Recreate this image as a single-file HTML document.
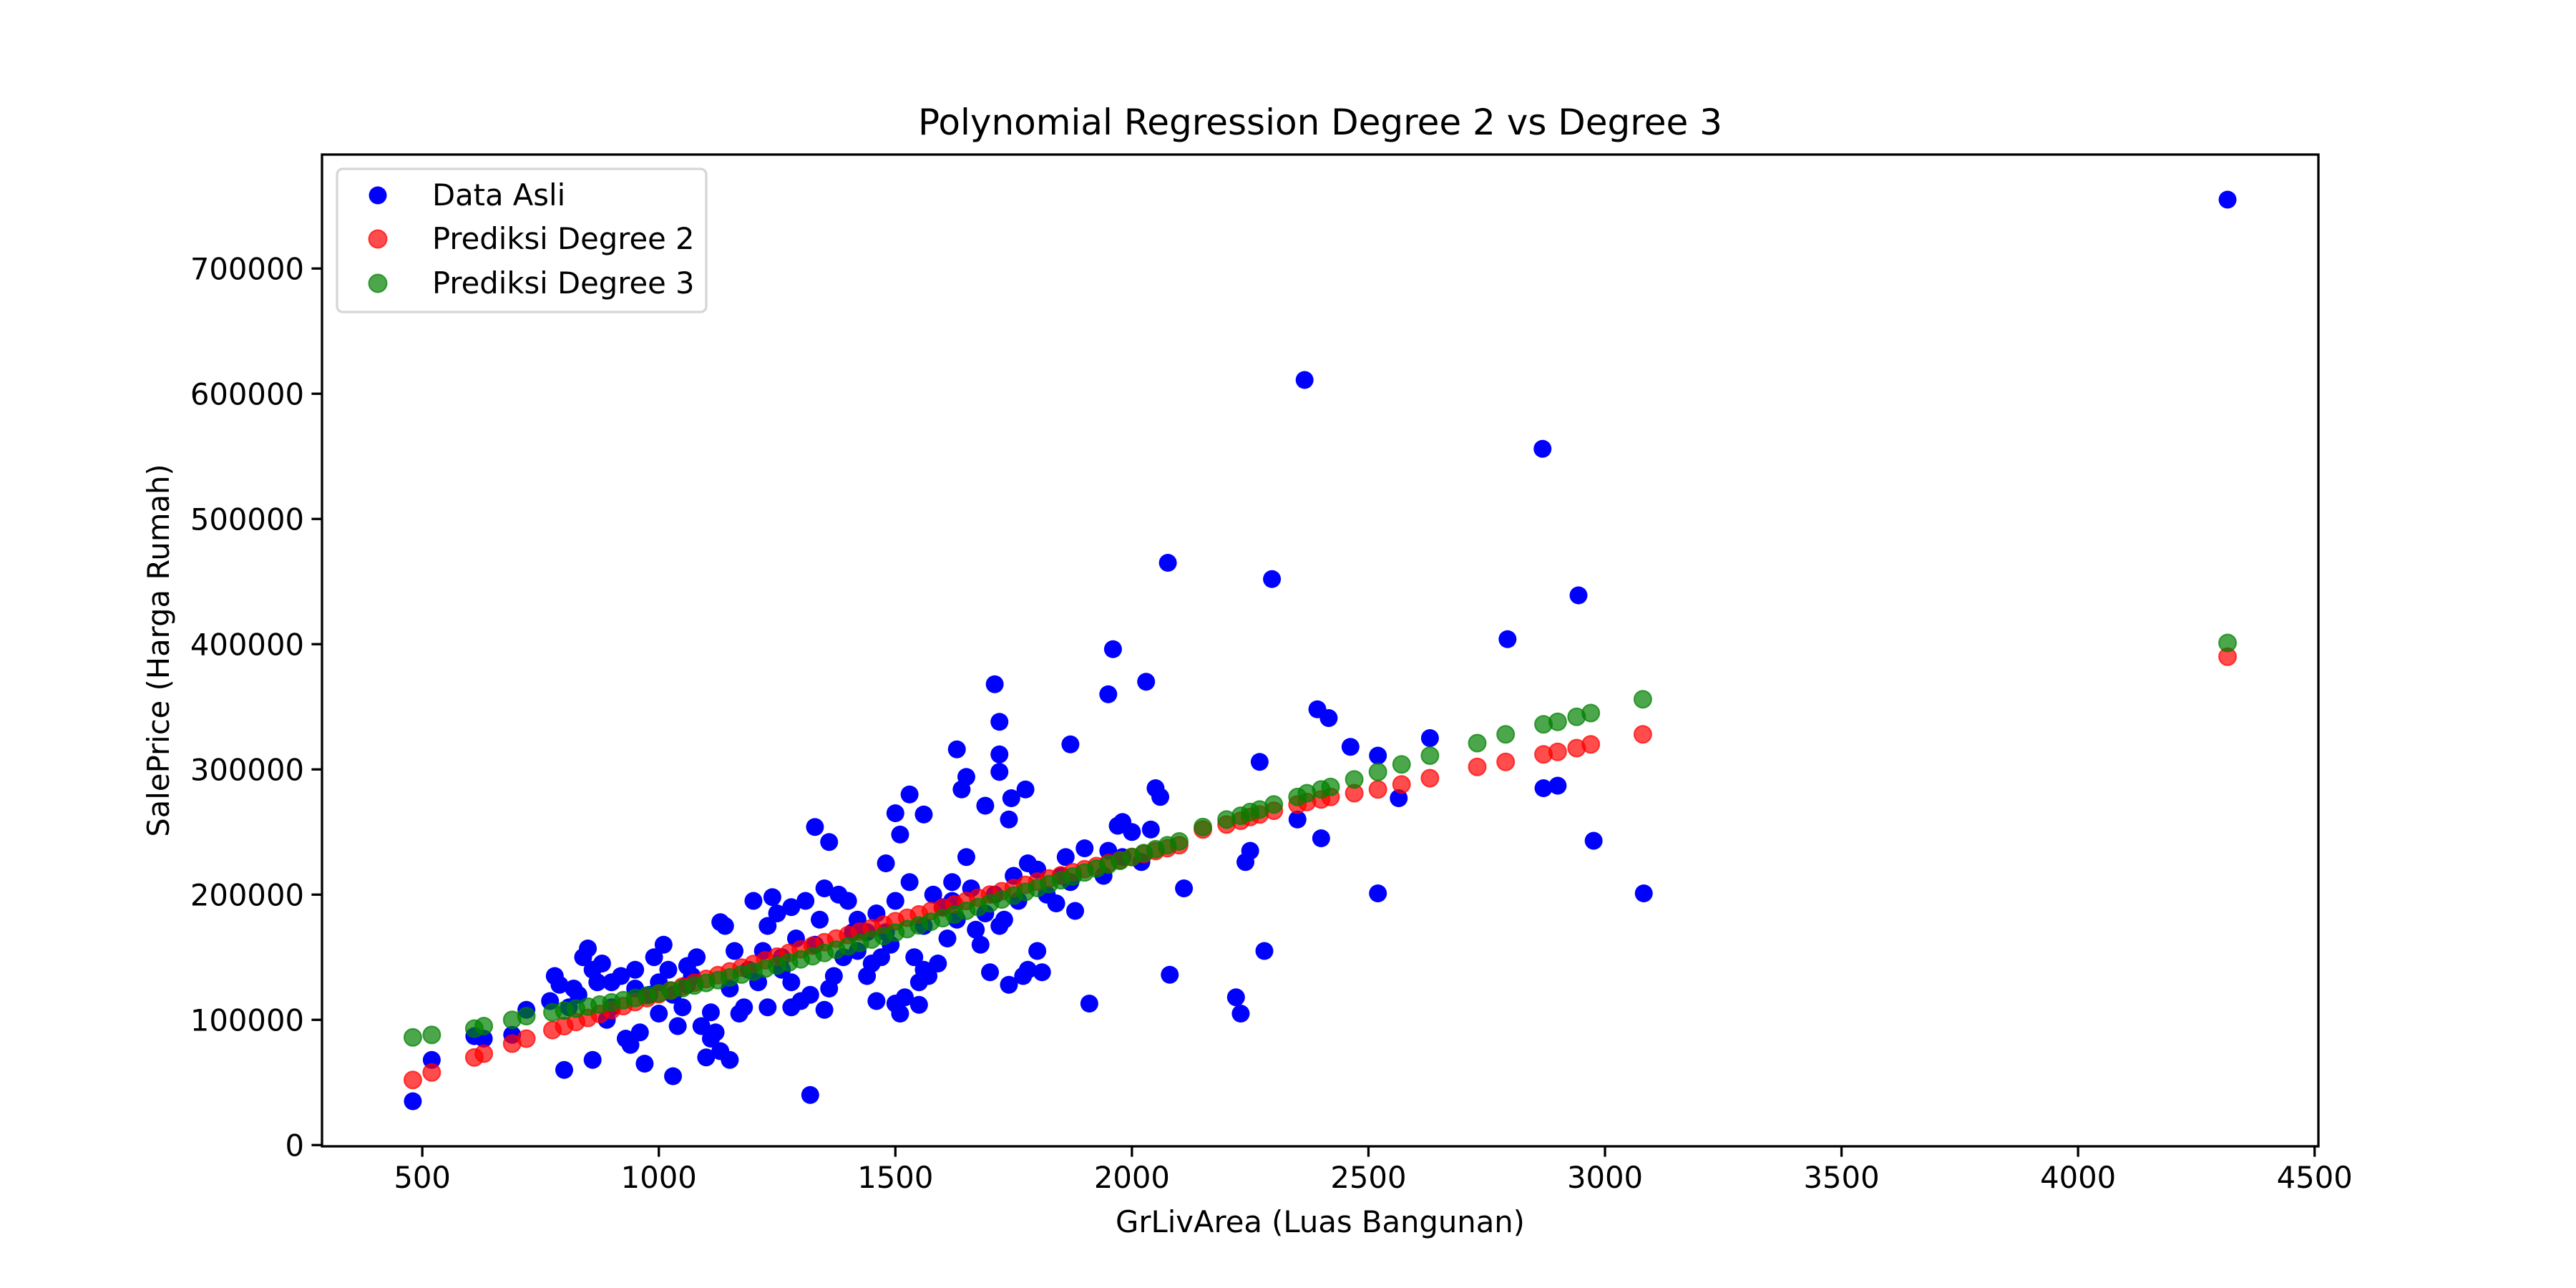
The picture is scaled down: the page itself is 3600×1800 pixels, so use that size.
<!DOCTYPE html>
<html><head><meta charset="utf-8"><style>
html,body{margin:0;padding:0;background:#fff;}
svg{display:block;font-family:"DejaVu Sans","Liberation Sans",sans-serif;}
</style></head><body>
<svg id="chart" width="3600" height="1800" viewBox="0 0 3600 1800">
<rect width="3600" height="1800" fill="#fff"/>
<text x="1845" y="188" font-size="50" text-anchor="middle">Polynomial Regression Degree 2 vs Degree 3</text>
<g id="ticks"></g>
<g id="marks"></g>
<rect x="450" y="216" width="2790" height="1386" fill="none" stroke="#000" stroke-width="3.3"/>
<text x="1845" y="1722" font-size="41.7" text-anchor="middle">GrLivArea (Luas Bangunan)</text>
<text transform="translate(236,909) rotate(-90)" font-size="41.7" text-anchor="middle">SalePrice (Harga Rumah)</text>
<g>
<rect x="471" y="236" width="516" height="200" rx="8" fill="#fff" fill-opacity="0.8" stroke="#d6d6d6" stroke-width="3.3"/>
<circle cx="528" cy="273" r="12.5" fill="#0000ff"/>
<text x="604" y="287" font-size="41.7">Data Asli</text>
<circle cx="528" cy="334" r="12.5" fill="#ff0000" fill-opacity="0.7" stroke="#ff0000" stroke-opacity="0.7" stroke-width="2"/>
<text x="604" y="348" font-size="41.7">Prediksi Degree 2</text>
<circle cx="528" cy="396" r="12.5" fill="#008000" fill-opacity="0.7" stroke="#008000" stroke-opacity="0.7" stroke-width="2"/>
<text x="604" y="410" font-size="41.7">Prediksi Degree 3</text>
</g>
</svg>
<script>
const xTicks=[500,1000,1500,2000,2500,3000,3500,4000,4500];
const yTicks=[0,100000,200000,300000,400000,500000,600000,700000];
const dataPoints=[[4316,755000],[2365,611000],[2868,556000],[2076,465000],[2296,452000],[2944,439000],[2794,404000],[1960,396000],[1710,368000],[2030,370000],[1950,360000],[2392,348000],[2416,341000],[1720,338000],[2630,325000],[2870,285000],[2900,287000],[2976,243000],[3082,201000],[2520,201000],[2462,318000],[2520,311000],[2564,277000],[2400,245000],[2270,306000],[2110,205000],[2080,136000],[2220,118000],[2230,105000],[2280,155000],[2240,226000],[2250,235000],[2350,260000],[1320,40000],[480,35000],[520,68000],[1630,316000],[1650,294000],[1720,312000],[1745,277000],[1775,284000],[1870,320000],[1980,258000],[1330,254000],[1500,265000],[1510,248000],[1530,280000],[1560,264000],[1640,284000],[1690,271000],[1720,298000],[1740,260000],[1910,113000],[1840,193000],[1880,187000],[1800,155000],[1810,138000],[1780,140000],[1740,128000],[1860,230000],[1780,225000],[1800,220000],[1900,237000],[2050,285000],[2060,278000],[1970,255000],[2000,250000],[2020,226000],[1980,230000],[1940,215000],[1700,138000],[1680,160000],[1600,190000],[1580,200000],[1620,210000],[1560,140000],[1540,150000],[1520,118000],[1500,113000],[1510,105000],[1470,150000],[1450,145000],[1440,170000],[1420,180000],[1400,195000],[1380,200000],[1360,242000],[1350,205000],[1340,180000],[1320,120000],[1300,115000],[1310,195000],[1290,165000],[1260,150000],[1250,185000],[1240,198000],[1230,175000],[1220,155000],[1210,130000],[1200,195000],[1190,140000],[1180,110000],[1170,105000],[1160,155000],[1150,125000],[1140,175000],[1130,178000],[1120,90000],[1110,85000],[1100,70000],[1090,95000],[1080,150000],[1070,135000],[1060,143000],[1050,110000],[1040,95000],[1030,55000],[1020,140000],[1010,160000],[1000,130000],[990,150000],[980,120000],[970,65000],[960,90000],[950,140000],[940,80000],[930,85000],[920,135000],[900,110000],[890,100000],[880,145000],[870,130000],[860,68000],[850,157000],[840,150000],[830,120000],[820,125000],[810,110000],[800,60000],[790,128000],[780,135000],[770,115000],[720,108000],[690,88000],[630,85000],[610,87000],[1150,68000],[1130,75000],[1110,106000],[1350,108000],[1370,135000],[1390,150000],[1410,170000],[1460,185000],[1480,225000],[1490,160000],[1550,130000],[1570,135000],[1590,145000],[1610,165000],[1630,180000],[1650,230000],[1660,205000],[1670,172000],[1690,185000],[1710,200000],[1730,180000],[1750,215000],[1760,195000],[1820,200000],[1850,215000],[1870,210000],[1950,235000],[2040,252000],[1230,110000],[1260,140000],[1280,130000],[1330,160000],[1360,125000],[1420,155000],[1440,135000],[1480,170000],[1500,195000],[1530,210000],[1560,175000],[1620,195000],[1000,105000],[1030,120000],[1060,128000],[950,125000],[900,130000],[860,140000],[1280,110000],[1280,190000],[1720,175000],[1770,135000],[1550,112000],[1460,115000]];
const predX=[480,520,610,630,690,720,775,800,825,850,875,900,925,950,975,1000,1025,1050,1075,1100,1125,1150,1175,1200,1225,1250,1275,1300,1325,1350,1375,1400,1425,1450,1475,1500,1525,1550,1575,1600,1625,1650,1675,1700,1725,1750,1775,1800,1825,1850,1875,1900,1925,1950,1975,2000,2025,2050,2075,2100,2150,2200,2230,2250,2270,2300,2350,2370,2400,2420,2470,2520,2570,2630,2730,2790,2870,2900,2940,2970,3080,4316];
const predDeg2=[52000,58000,70000,73000,81000,85000,91800,95000,98300,101500,104700,107900,111000,114200,117300,120400,123500,126600,129600,132700,135700,138700,141700,144600,147600,150500,153400,156300,159200,162000,164900,167700,170500,173300,176000,178800,181500,184200,186900,189600,192200,194900,197500,200100,202700,205300,207800,210400,212900,215400,217900,220300,222800,225200,227600,230000,232400,234800,237100,239500,252000,256000,259000,262000,264000,267000,272000,274000,276000,278000,281000,284000,288000,293000,302000,306000,312000,314000,317000,320000,328000,390000];
const predDeg3=[86000,88000,93000,95000,100000,103000,106000,107500,109000,110600,112200,113900,115700,117500,119400,121300,123300,125300,127400,129500,131700,133900,136200,138500,140900,143300,145800,148300,150800,153400,156000,158700,161400,164100,166900,169700,172500,175400,178300,181200,184100,187100,190100,193100,196100,199200,202200,205300,208400,211500,214600,217700,220800,223900,227000,230100,233200,236300,239400,242500,254000,260000,263000,266000,268000,272000,278000,281000,284000,286000,292000,298000,304000,311000,321000,328000,336000,338000,342000,345000,356000,401000];

const X0=450,X1=3240,Y0=1602,Y1=216,xMin=288,xMax=4508,yMin=-1000,yMax=791000;
const sx=v=>X0+(v-xMin)/(xMax-xMin)*(X1-X0);
const sy=v=>Y0-(v-yMin)/(yMax-yMin)*(Y0-Y1);
const NS='http://www.w3.org/2000/svg';
const tg=document.getElementById('ticks'),mg=document.getElementById('marks');
function mk(tag,attrs,parent){const e=document.createElementNS(NS,tag);for(const k in attrs)e.setAttribute(k,attrs[k]);parent.appendChild(e);return e;}
xTicks.forEach(t=>{const x=sx(t);
 const l=mk('line',{x1:x,x2:x,y1:Y0,y2:Y0+14.6,stroke:'#000','stroke-width':3.3},tg);
 
 
 const tx=mk('text',{x:x,y:Y0+58,'font-size':41.7,'text-anchor':'middle'},tg);tx.textContent=t;
 
 });
yTicks.forEach(t=>{const y=sy(t);
 const l=mk('line',{x1:X0-14.6,x2:X0,y1:y,y2:y,stroke:'#000','stroke-width':3.3},tg);
 
 
 const tx=mk('text',{x:X0-25,y:y+15,'font-size':41.7,'text-anchor':'end'},tg);tx.textContent=t;
 
 });
dataPoints.forEach(p=>{const c=mk('circle',{cx:sx(p[0]),cy:sy(p[1]),r:12.5,fill:'#0000ff'},mg);
 
 });
predX.forEach((x,i)=>{const c=mk('circle',{cx:sx(x),cy:sy(predDeg2[i]),r:12,fill:'#ff0000','fill-opacity':0.7,stroke:'#ff0000','stroke-opacity':0.7,'stroke-width':2},mg);
 
 });
predX.forEach((x,i)=>{const c=mk('circle',{cx:sx(x),cy:sy(predDeg3[i]),r:12,fill:'#008000','fill-opacity':0.7,stroke:'#008000','stroke-opacity':0.7,'stroke-width':2},mg);
 
 });
</script>
</body></html>
